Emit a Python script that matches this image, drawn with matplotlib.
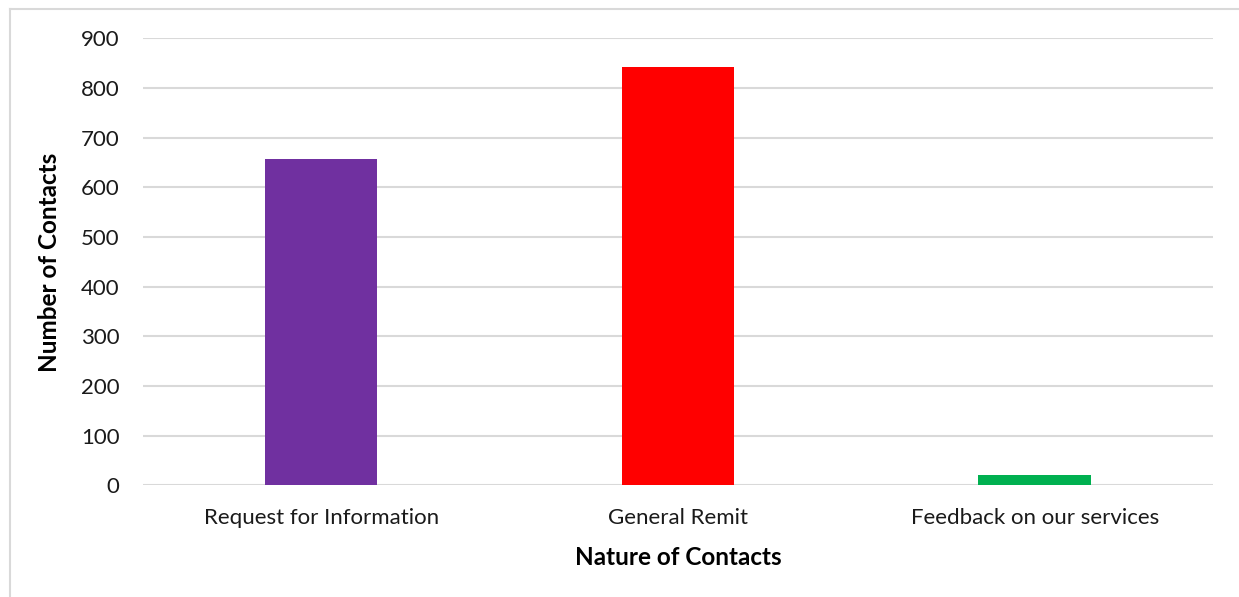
import matplotlib.pyplot as plt
from matplotlib.lines import Line2D

categories = ['Request for Information', 'General Remit', 'Feedback on our services']
contacts = [657, 842, 21]
bar_colors = ['#7030a0', '#ff0000', '#00b050']
y_ticks = [0, 100, 200, 300, 400, 500, 600, 700, 800, 900]

plt.rcParams['font.family'] = ['Lato', 'DejaVu Sans']

fig = plt.figure(figsize=(12.39, 5.97), dpi=100)
ax = fig.add_axes([0.1154, 0.1868, 0.979 - 0.1154, 0.9358 - 0.1868])

ax.bar(range(len(categories)), contacts, width=0.315, color=bar_colors, zorder=3)

ax.set_xlim(-0.5, len(categories) - 0.5)
ax.set_ylim(0, 900)
ax.set_yticks(y_ticks)
ax.set_xticks(range(len(categories)))
ax.set_xticklabels(categories)
ax.tick_params(axis='both', length=0, labelsize=16, colors='#1a1a1a')
ax.tick_params(axis='x', pad=16)
ax.tick_params(axis='y', pad=17)

ax.grid(axis='y', color='#d9d9d9', linewidth=1.5, zorder=0)
for s in ax.spines.values():
    s.set_visible(False)

ax.set_xlabel('Nature of Contacts', fontsize=17.5, fontweight='bold', color='#000000', labelpad=13)
ax.set_ylabel('Number of Contacts', fontsize=17.5, fontweight='bold', color='#000000', labelpad=14)

# light chart-area border (top and left edges visible in the crop)
fig.add_artist(Line2D([10 / 1239, 1], [1 - 9 / 597, 1 - 9 / 597], color='#d9d9d9', linewidth=1.5))
fig.add_artist(Line2D([10 / 1239, 10 / 1239], [0, 1 - 9 / 597], color='#d9d9d9', linewidth=1.5))

fig.savefig('out.png', dpi=100)
